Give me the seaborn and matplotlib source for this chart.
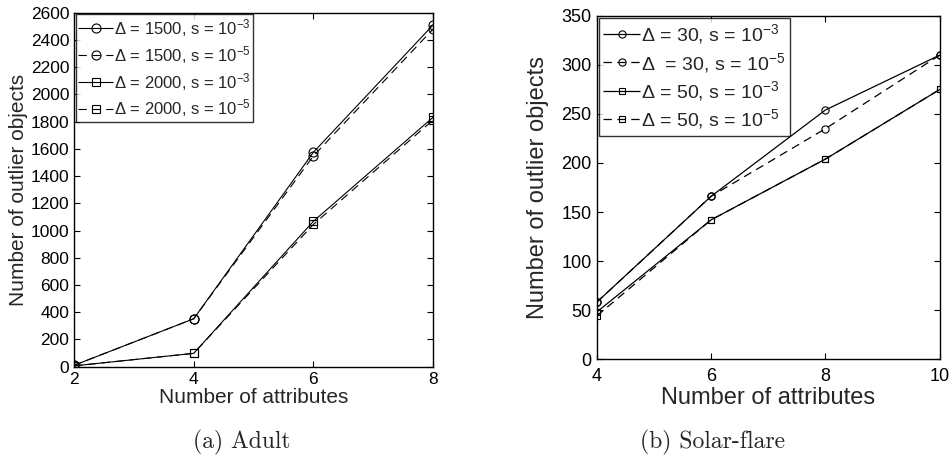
import matplotlib
matplotlib.use('Agg')
import matplotlib.pyplot as plt
import seaborn as sns
import pandas as pd

# Adult 데이터
adult_x = [2, 4, 6, 8]
adult_1500_s3 = [10, 352, 1575, 2510]
adult_1500_s5 = [10, 352, 1548, 2480]
adult_2000_s3 = [6, 98, 1068, 1832]
adult_2000_s5 = [6, 98, 1045, 1812]
adult_labels = [r'Δ = 1500, s = 10$^{-3}$', r'Δ = 1500, s = 10$^{-5}$',
                r'Δ = 2000, s = 10$^{-3}$', r'Δ = 2000, s = 10$^{-5}$']

# Solar-flare 데이터
solar_x = [4, 6, 8, 10]
solar_30_s3 = [58, 166, 254, 310]
solar_30_s5 = [58, 166, 235, 310]
solar_50_s3 = [48, 142, 204, 275]
solar_50_s5 = [44, 142, 204, 275]
solar_labels = [r'Δ = 30, s = 10$^{-3}$', r'Δ  = 30, s = 10$^{-5}$',
                r'Δ = 50, s = 10$^{-3}$', r'Δ = 50, s = 10$^{-5}$']

sns.set_style('ticks')
plt.rcParams['font.family'] = ['Liberation Sans', 'DejaVu Sans']
plt.rcParams['mathtext.fontset'] = 'custom'
plt.rcParams['mathtext.rm'] = 'Liberation Sans'
plt.rcParams['mathtext.it'] = 'Liberation Sans'
plt.rcParams['lines.scale_dashes'] = False

fig = plt.figure(figsize=(9.5, 4.63), dpi=100)
ax1 = fig.add_axes([0.0779, 0.208, 0.378, 0.7646])
ax2 = fig.add_axes([0.628, 0.224, 0.3614, 0.742])

styles = [('o', (0, ())), ('o', (0, (6, 4))), ('s', (0, ())), ('s', (0, (6, 4)))]


def draw(ax, xs, series, labels, msize, lw):
    for ys, lab, (mk, ls) in zip(series, labels, styles):
        df = pd.DataFrame({'x': xs, 'y': ys})
        sns.lineplot(data=df, x='x', y='y', ax=ax, color='black', marker=mk,
                     markersize=msize if mk == 'o' else msize * 0.85,
                     fillstyle='none', markeredgewidth=0.8, markeredgecolor='black',
                     linestyle=ls, linewidth=lw, label=lab)
    for sp in ax.spines.values():
        sp.set_linewidth(1.0)
        sp.set_color('black')
    ax.tick_params(direction='in', top=True, right=True, length=4, width=0.8, colors='black')


def style_legend(leg):
    leg.get_frame().set_edgecolor('black')
    leg.get_frame().set_linewidth(1.0)


draw(ax1, adult_x, [adult_1500_s3, adult_1500_s5, adult_2000_s3, adult_2000_s5],
     adult_labels, 6.5, 0.8)
ax1.set_xlim(2, 8)
ax1.set_ylim(0, 2600)
ax1.set_xticks([2, 4, 6, 8])
ax1.set_yticks(range(0, 2601, 200))
ax1.tick_params(labelsize=12.5)
ax1.set_xlabel('Number of attributes', fontsize=15, labelpad=1)
ax1.set_ylabel('Number of outlier objects', fontsize=15, labelpad=2)
leg1 = ax1.legend(loc='upper left', fontsize=12, handlelength=2.1, handletextpad=0.05,
                  borderaxespad=0.1, labelspacing=0.3, frameon=True, fancybox=False,
                  borderpad=0.15)
style_legend(leg1)

draw(ax2, solar_x, [solar_30_s3, solar_30_s5, solar_50_s3, solar_50_s5],
     solar_labels, 5.2, 0.9)
ax2.set_xlim(4, 10)
ax2.set_ylim(0, 350)
ax2.set_xticks([4, 6, 8, 10])
ax2.set_yticks(range(0, 351, 50))
ax2.tick_params(labelsize=13)
ax2.tick_params(axis='x', pad=6)
ax2.set_xlabel('Number of attributes', fontsize=17, labelpad=2)
ax2.set_ylabel('Number of outlier objects', fontsize=17, labelpad=9)
leg2 = ax2.legend(loc='upper left', fontsize=14, handlelength=1.9, handletextpad=0.05,
                  borderaxespad=0.1, labelspacing=0.22, frameon=True, fancybox=False,
                  borderpad=0.25)
style_legend(leg2)

fig.text(0.2547, 1 - 442 / 463, '(a) Adult', fontname='cmr10', fontsize=17,
         ha='center', va='center')
fig.text(0.7495, 1 - 442 / 463, '(b) Solar-flare', fontname='cmr10', fontsize=17,
         ha='center', va='center')

fig.savefig('out.png', dpi=100)
